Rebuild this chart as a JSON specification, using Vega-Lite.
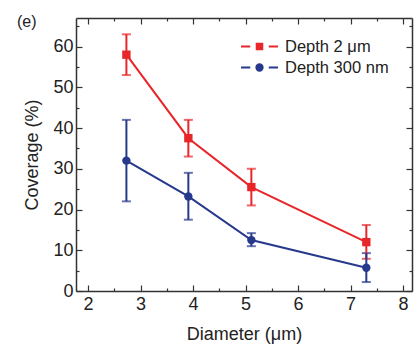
{
  "$schema": "https://vega.github.io/schema/vega-lite/v6.json",
  "autosize": "none",
  "width": 336,
  "height": 273,
  "padding": {"left": 76, "top": 18, "right": 2, "bottom": 58},
  "background": "white",
  "title": {"text": "(e)", "anchor": "start", "frame": "group", "dx": -59, "offset": -26, "baseline": "alphabetic", "font": "Liberation Sans", "fontSize": 16, "fontWeight": "normal", "color": "#222"},
  "config": {
    "font": "Liberation Sans",
    "view": {"stroke": null},
    "axis": {"domainColor": "#333", "domainWidth": 1.5, "tickColor": "#333", "tickWidth": 1.2, "labelFont": "Liberation Sans", "labelFontSize": 18, "labelColor": "#222", "titleFont": "Liberation Sans", "titleFontSize": 18, "titleFontWeight": "normal", "titleColor": "#222", "grid": false}
  },
  "data": {"values": [
    {"series": "Depth 2 μm", "d": 2.73, "c": 58.0, "lo": 53.0, "hi": 63.0},
    {"series": "Depth 2 μm", "d": 3.91, "c": 37.5, "lo": 33.0, "hi": 42.0},
    {"series": "Depth 2 μm", "d": 5.11, "c": 25.5, "lo": 21.0, "hi": 30.0},
    {"series": "Depth 2 μm", "d": 7.30, "c": 12.0, "lo": 7.9, "hi": 16.2},
    {"series": "Depth 300 nm", "d": 2.73, "c": 32.0, "lo": 22.0, "hi": 42.0},
    {"series": "Depth 300 nm", "d": 3.91, "c": 23.2, "lo": 17.5, "hi": 29.0},
    {"series": "Depth 300 nm", "d": 5.11, "c": 12.5, "lo": 11.0, "hi": 14.2},
    {"series": "Depth 300 nm", "d": 7.30, "c": 5.7, "lo": 2.2, "hi": 9.3}
  ]},
  "resolve": {"axis": {"x": "independent", "y": "independent"}},
  "layer": [
    {
      "mark": {"type": "errorbar", "ticks": {"size": 9, "thickness": 2}, "rule": {"strokeWidth": 2}},
      "encoding": {
        "x": {"field": "d", "type": "quantitative", "scale": {"domain": [1.77, 8.17], "nice": false, "zero": false},
          "axis": {"orient": "bottom", "title": "Diameter (μm)", "titlePadding": 12, "values": [2, 2.5, 3, 3.5, 4, 4.5, 5, 5.5, 6, 6.5, 7, 7.5, 8],
            "labelExpr": "datum.value % 1 === 0 ? format(datum.value, 'd') : ''",
            "tickSize": {"condition": {"test": "datum.value % 1 !== 0", "value": -3}, "value": -6}, "labelPadding": 10}},
        "y": {"field": "lo", "type": "quantitative", "scale": {"domain": [0, 67], "nice": false},
          "axis": {"orient": "left", "title": "Coverage (%)", "titlePadding": 11, "values": [0, 5, 10, 15, 20, 25, 30, 35, 40, 45, 50, 55, 60, 65],
            "labelExpr": "datum.value % 10 === 0 ? format(datum.value, 'd') : ''",
            "tickSize": {"condition": {"test": "datum.value % 10 !== 0", "value": -3}, "value": -6}, "labelPadding": 9}},
        "y2": {"field": "hi"},
        "color": {"field": "series", "type": "nominal", "scale": {"domain": ["Depth 300 nm", "Depth 2 μm"], "range": ["#27398c", "#e8262a"]}, "legend": null}
      }
    },
    {
      "mark": {"type": "line", "strokeWidth": 2},
      "encoding": {
        "x": {"field": "d", "type": "quantitative",
          "axis": {"orient": "top", "title": null, "labels": false, "values": [2, 2.5, 3, 3.5, 4, 4.5, 5, 5.5, 6, 6.5, 7, 7.5, 8],
            "tickSize": {"condition": {"test": "datum.value % 1 !== 0", "value": -3}, "value": -6}}},
        "y": {"field": "c", "type": "quantitative",
          "axis": {"orient": "right", "title": null, "labels": false, "values": [0, 5, 10, 15, 20, 25, 30, 35, 40, 45, 50, 55, 60, 65],
            "tickSize": {"condition": {"test": "datum.value % 10 !== 0", "value": -3}, "value": -6}}},
        "color": {"field": "series", "type": "nominal", "legend": null}
      }
    },
    {
      "transform": [{"filter": "datum.series === 'Depth 2 μm'"}],
      "mark": {"type": "point", "shape": "square", "filled": true, "opacity": 1, "size": 70},
      "encoding": {
        "x": {"field": "d", "type": "quantitative", "axis": null},
        "y": {"field": "c", "type": "quantitative", "axis": null},
        "color": {"field": "series", "type": "nominal", "legend": null}
      }
    },
    {
      "transform": [{"filter": "datum.series === 'Depth 300 nm'"}],
      "mark": {"type": "point", "shape": "circle", "filled": true, "opacity": 1, "size": 70},
      "encoding": {
        "x": {"field": "d", "type": "quantitative", "axis": null},
        "y": {"field": "c", "type": "quantitative", "axis": null},
        "color": {"field": "series", "type": "nominal", "legend": null}
      }
    },
    {
      "mark": {"type": "point", "size": 0, "strokeWidth": 2},
      "encoding": {
        "x": {"field": "d", "type": "quantitative", "axis": null},
        "y": {"field": "c", "type": "quantitative", "axis": null},
        "fill": {"field": "series", "type": "nominal", "scale": {"domain": ["Depth 2 μm", "Depth 300 nm"], "range": ["#e8262a", "#27398c"]},
          "legend": {"title": null, "orient": "none", "legendX": 164, "legendY": 18, "symbolSize": 1369, "symbolOpacity": 1, "symbolStrokeWidth": 2, "clipHeight": 21,
            "labelFont": "Liberation Sans", "labelFontSize": 16.5, "labelColor": "#222", "rowPadding": 0, "labelOffset": 6}},
        "stroke": {"field": "series", "type": "nominal", "scale": {"domain": ["Depth 2 μm", "Depth 300 nm"], "range": ["#e8262a", "#27398c"]},
          "legend": {"title": null, "orient": "none", "legendX": 164, "legendY": 18, "symbolSize": 1369, "symbolOpacity": 1, "symbolStrokeWidth": 2, "clipHeight": 21,
            "labelFont": "Liberation Sans", "labelFontSize": 16.5, "labelColor": "#222", "rowPadding": 0, "labelOffset": 6}},
        "shape": {"field": "series", "type": "nominal",
          "scale": {"domain": ["Depth 2 μm", "Depth 300 nm"], "range": [
            "M-1,0H-0.5M0.5,0H1M-0.15,-0.15H0.15V0.15H-0.15Z",
            "M-1,0H-0.5M0.5,0H1M-0.17,0A0.17,0.17 0 1,1 0.17,0A0.17,0.17 0 1,1 -0.17,0Z"
          ]},
          "legend": {"title": null, "orient": "none", "legendX": 164, "legendY": 18, "symbolSize": 1369, "symbolOpacity": 1, "symbolStrokeWidth": 2, "clipHeight": 21,
            "labelFont": "Liberation Sans", "labelFontSize": 16.5, "labelColor": "#222", "rowPadding": 0, "labelOffset": 6}
        }
      }
    }
  ]
}
